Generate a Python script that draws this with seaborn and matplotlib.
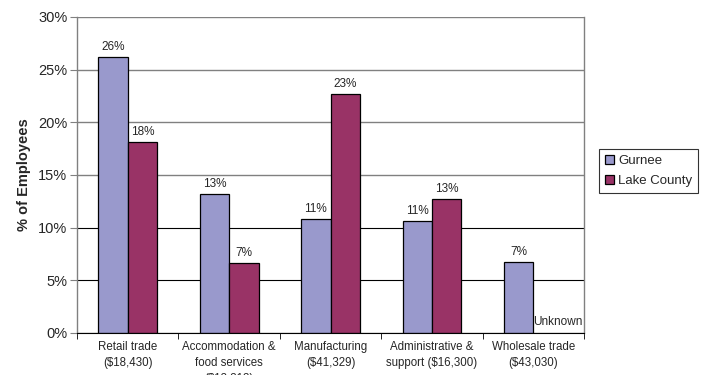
import pandas as pd
import numpy as np
import matplotlib
matplotlib.use('Agg')
import matplotlib.pyplot as plt
import seaborn as sns

# data
industries = ['Retail trade\n($18,430)', 'Accommodation &\nfood services\n($13,313)',
              'Manufacturing\n($41,329)', 'Administrative &\nsupport ($16,300)',
              'Wholesale trade\n($43,030)']
gurnee = [26.2, 13.2, 10.8, 10.6, 6.7]
lake_county = [18.1, 6.6, 22.7, 12.7, np.nan]
bar_labels_gurnee = ['26%', '13%', '11%', '11%', '7%']
bar_labels_lake = ['18%', '7%', '23%', '13%', '']

df = pd.DataFrame({'industry': industries * 2,
                   'area': ['Gurnee'] * 5 + ['Lake County'] * 5,
                   'pct': gurnee + lake_county})

sns.set_style('white')
plt.rcParams['font.family'] = ['Liberation Sans', 'DejaVu Sans']

fig = plt.figure(figsize=(7.07, 3.75), dpi=100)
ax = fig.add_axes([0.109, 0.112, 0.717, 0.843])

sns.barplot(data=df, x='industry', y='pct', hue='area',
            palette=['#9999cc', '#993366'], width=0.58,
            edgecolor='black', linewidth=0.9, saturation=1, ax=ax)

for cont, labs in zip(ax.containers, [bar_labels_gurnee, bar_labels_lake]):
    for bar, lab in zip(cont, labs):
        if bar is None or not lab:
            continue
        ax.annotate(lab, (bar.get_x() + bar.get_width() / 2, bar.get_height()),
                    xytext=(0, 3), textcoords='offset points',
                    ha='center', va='bottom', fontsize=8.5)

# Lake County has no wholesale figure
ax.text(4.49, 0.5, 'Unknown', ha='right', va='bottom', fontsize=8.5)

ax.set_ylim(0, 30)
ax.set_xlim(-0.5, 4.5)
ax.set_yticks(range(0, 31, 5))
ax.set_yticklabels([f'{v}%' for v in range(0, 31, 5)], fontsize=10.5)
ax.set_xticks(range(5))
ax.set_xticklabels(industries, fontsize=8.3, linespacing=1.45)
ax.set_xticks(np.arange(-0.5, 5, 1), minor=True)
ax.tick_params(axis='x', which='major', length=0, pad=6)
ax.tick_params(axis='x', which='minor', length=4, color='black', direction='out', bottom=True)
ax.tick_params(axis='y', length=5, color='#808080', direction='out', left=True, pad=2)
ax.set_xlabel('')
ax.set_ylabel('% of Employees', fontsize=10.5, fontweight='bold', labelpad=5)

ax.set_axisbelow(True)
ax.yaxis.grid(True, color='#808080', linewidth=1)
for i, gl in enumerate(ax.yaxis.get_gridlines()):
    if i in (1, 2):
        gl.set_color('black')
        gl.set_linewidth(0.8)

for s in ['left', 'right']:
    ax.spines[s].set_color('#808080')
    ax.spines[s].set_linewidth(1)
ax.spines['bottom'].set_color('black')
ax.spines['top'].set_visible(False)

leg = ax.legend(loc='upper left', bbox_to_anchor=(1.03, 0.582), fontsize=9.5,
                frameon=True, fancybox=False, edgecolor='black',
                handlelength=0.7, handleheight=0.7, handletextpad=0.3,
                borderpad=0.45, labelspacing=0.6, borderaxespad=0)
leg.get_frame().set_linewidth(0.8)

fig.savefig('out.png', dpi=100)
